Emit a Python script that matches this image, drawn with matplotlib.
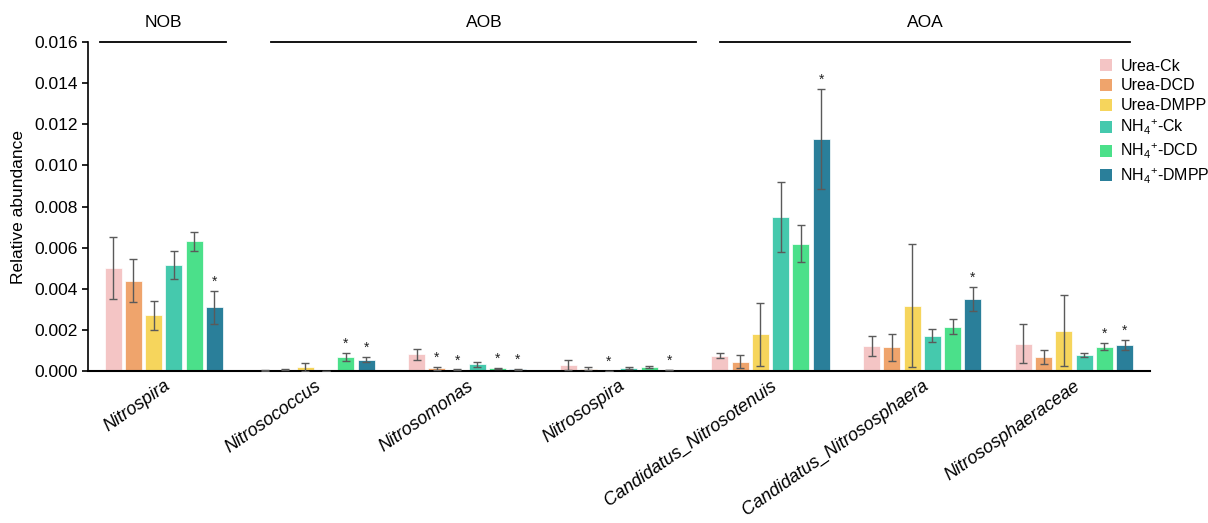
import numpy as np
import matplotlib
matplotlib.use("Agg")
import matplotlib.pyplot as plt
import matplotlib.transforms as mtransforms
from matplotlib.patches import Patch

plt.rcParams['font.family'] = ['Liberation Sans', 'DejaVu Sans']
plt.rcParams['mathtext.fontset'] = 'custom'
plt.rcParams['mathtext.rm'] = 'Liberation Sans'
plt.rcParams['mathtext.it'] = 'Liberation Sans:italic'

categories = ['Nitrospira', 'Nitrosococcus', 'Nitrosomonas', 'Nitrosospira',
              'Candidatus_Nitrosotenuis', 'Candidatus_Nitrososphaera', 'Nitrososphaeraceae']
series_names = ['Urea-Ck', 'Urea-DCD', 'Urea-DMPP',
                r'NH$_4$$^{+}$-Ck', r'NH$_4$$^{+}$-DCD', r'NH$_4$$^{+}$-DMPP']
colors = ['#F4C5C5', '#EFA46C', '#F6D55C', '#45C9AD', '#4BE08A', '#2A7F9A']

urea_ck = [0.0050, 0.00002, 0.00082, 0.00029, 0.00074, 0.00120, 0.00133]
urea_ck_sd = [0.0015, 0.00001, 0.00027, 0.00024, 0.00012, 0.00048, 0.00094]
urea_dcd = [0.0044, 0.00006, 0.00013, 0.00011, 0.00045, 0.00115, 0.00068]
urea_dcd_sd = [0.00105, 0.00003, 0.00007, 0.00008, 0.00032, 0.00064, 0.00032]
urea_dmpp = [0.0027, 0.00018, 0.00006, 0.00001, 0.00178, 0.00318, 0.00196]
urea_dmpp_sd = [0.0007, 0.00019, 0.00002, 0.0, 0.00155, 0.00299, 0.00172]
nh4_ck = [0.00515, 0.00001, 0.00032, 0.00013, 0.00751, 0.00172, 0.00078]
nh4_ck_sd = [0.00068, 0.0, 0.00012, 0.00005, 0.0017, 0.0003, 0.00012]
nh4_dcd = [0.0063, 0.0007, 0.00013, 0.00021, 0.00619, 0.00216, 0.00118]
nh4_dcd_sd = [0.00045, 0.0002, 0.00003, 0.00005, 0.0009, 0.00035, 0.00018]
nh4_dmpp = [0.0031, 0.00055, 0.00008, 0.00005, 0.01128, 0.00352, 0.00128]
nh4_dmpp_sd = [0.0008, 0.00012, 0.00002, 0.00001, 0.00245, 0.00058, 0.00025]

# significance marks (1 = '*')
sig_urea_ck = [0, 0, 0, 0, 0, 0, 0]
sig_urea_dcd = [0, 0, 1, 0, 0, 0, 0]
sig_urea_dmpp = [0, 0, 1, 1, 0, 0, 0]
sig_nh4_ck = [0, 0, 0, 0, 0, 0, 0]
sig_nh4_dcd = [0, 1, 1, 0, 0, 0, 1]
sig_nh4_dmpp = [1, 1, 1, 1, 1, 1, 1]

groups = ['NOB', 'AOB', 'AOA']
group_spans = [(-0.42, 0.41), (0.71, 3.51), (3.67, 6.37)]

values = [urea_ck, urea_dcd, urea_dmpp, nh4_ck, nh4_dcd, nh4_dmpp]
sds = [urea_ck_sd, urea_dcd_sd, urea_dmpp_sd, nh4_ck_sd, nh4_dcd_sd, nh4_dmpp_sd]
sigs = [sig_urea_ck, sig_urea_dcd, sig_urea_dmpp, sig_nh4_ck, sig_nh4_dcd, sig_nh4_dmpp]

fig = plt.figure(figsize=(12.08, 5.23), dpi=100)
ax = fig.add_axes([0.0728, 0.2906, 0.879, 0.6291])

x = np.arange(len(categories))
step = 0.1335
width = 0.112
for j in range(6):
    xs = x + (j - 2.5) * step
    v = np.array(values[j])
    s = np.array(sds[j])
    ax.bar(xs, v, width=width, color=colors[j], edgecolor='white', linewidth=0.5, zorder=2)
    ax.errorbar(xs, v, yerr=s, fmt='none', ecolor='#5a5a5a', elinewidth=1.0,
                capsize=2.6, capthick=1.0, zorder=3)
    for k in range(len(categories)):
        if sigs[j][k]:
            ax.text(xs[k], v[k] + s[k] + 0.0001, '*', ha='center', va='bottom',
                    fontsize=10, color='#222222')

ax.set_xlim(-0.5, 6.5)
ax.set_ylim(0, 0.016)
ax.set_yticks(np.arange(0, 0.0161, 0.002))
ax.set_yticklabels([f'{t:.3f}' for t in np.arange(0, 0.0161, 0.002)], fontsize=12.5)
ax.set_ylabel('Relative abundance', fontsize=12.5, labelpad=6)
ax.spines['top'].set_visible(False)
ax.spines['right'].set_visible(False)
ax.spines['left'].set_linewidth(1.2)
ax.spines['bottom'].set_linewidth(1.5)
ax.tick_params(axis='y', direction='out', length=4, width=1.2)
ax.set_xticks(x)
ax.set_xticklabels([])
ax.tick_params(axis='x', length=0)

offset = mtransforms.ScaledTranslation(7 / 100, -17 / 100, fig.dpi_scale_trans)
for k, c in enumerate(categories):
    ax.text(x[k], 0, c, transform=ax.transData + offset, ha='right', va='baseline',
            rotation=35, rotation_mode='anchor', fontsize=13, style='italic')

for g, (a, b) in zip(groups, group_spans):
    ax.plot([a, b], [0.016, 0.016], color='black', lw=1.3, clip_on=False, zorder=4)
    ax.text((a + b) / 2, 0.0166, g, ha='center', va='bottom', fontsize=12.5)

handles = [Patch(facecolor=colors[j], edgecolor='none') for j in range(6)]
fig.legend(handles, series_names, loc='upper left', bbox_to_anchor=(0.905, 0.9),
           frameon=False, fontsize=11.5, handlelength=0.8, handleheight=0.8,
           handletextpad=0.5, labelspacing=0.3, borderaxespad=0)

fig.savefig('out.png', dpi=100)
